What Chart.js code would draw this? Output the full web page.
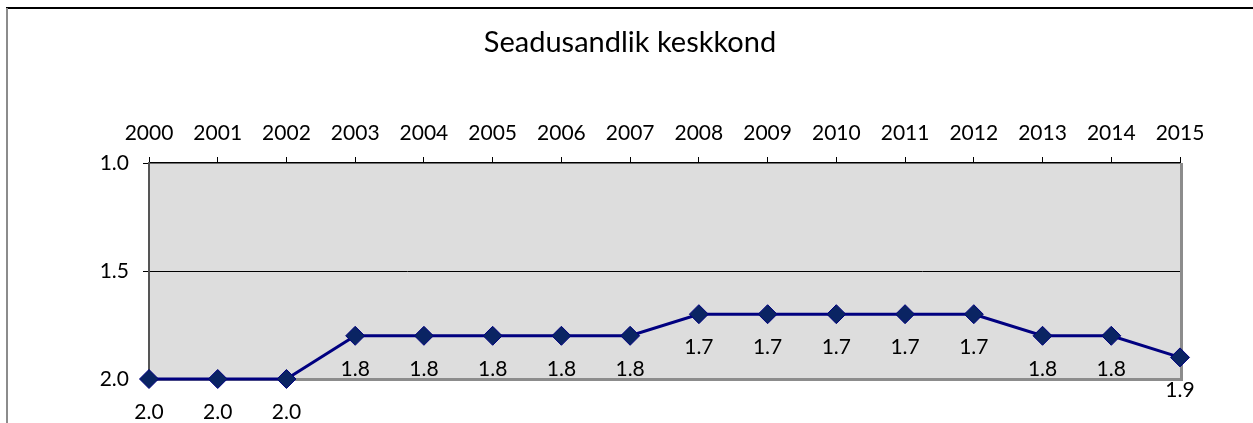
<!DOCTYPE html>
<html>
<head>
<meta charset="utf-8">
<script src="https://cdn.jsdelivr.net/npm/chart.js@4"></script>
<style>
  html, body { margin: 0; padding: 0; background: #fff; }
  #wrap { width: 1253px; height: 423px; position: relative; }
</style>
</head>
<body>
<div id="wrap"><canvas id="chart" width="1253" height="423"></canvas></div>
<script>
const chartTitle = 'Seadusandlik keskkond';
const years = ['2000', '2001', '2002', '2003', '2004', '2005', '2006', '2007',
               '2008', '2009', '2010', '2011', '2012', '2013', '2014', '2015'];
const scores = [2.0, 2.0, 2.0, 1.8, 1.8, 1.8, 1.8, 1.8, 1.7, 1.7, 1.7, 1.7, 1.7, 1.8, 1.8, 1.9];
const yTicks = [1.0, 1.5, 2.0];

const fontFamily = 'Lato, "Open Sans", sans-serif';

// taust, raam ja pealkiri
const framePlugin = {
    id: 'frame',
    beforeDraw(chart) {
        const { ctx, chartArea: a } = chart;
        ctx.save();
        ctx.fillStyle = '#dddddd';
        ctx.fillRect(a.left, a.top, a.right - a.left, a.bottom - a.top);

        // välimine raam
        ctx.strokeStyle = '#000';
        ctx.lineWidth = 2;
        ctx.beginPath();
        ctx.moveTo(6, 8);
        ctx.lineTo(1253, 8);
        ctx.stroke();
        ctx.strokeStyle = '#8c8c8c';
        ctx.beginPath();
        ctx.moveTo(7, 8);
        ctx.lineTo(7, 423);
        ctx.stroke();

        ctx.fillStyle = '#000';
        ctx.font = '29px ' + fontFamily;
        ctx.textAlign = 'center';
        ctx.textBaseline = 'middle';
        ctx.fillText(chartTitle, 630, 43);
        ctx.restore();
    },
    beforeDatasetsDraw(chart) {
        const { ctx, chartArea: a } = chart;
        ctx.save();
        ctx.strokeStyle = '#8c8c8c';
        ctx.lineWidth = 3;
        ctx.beginPath();
        ctx.moveTo(a.left, a.bottom + 0.5);
        ctx.lineTo(a.right + 1.5, a.bottom + 0.5);
        ctx.lineTo(a.right + 1.5, a.top);
        ctx.stroke();
        ctx.restore();
    }
};

// väärtuste sildid punktide all
const labelPlugin = {
    id: 'pointLabels',
    afterDatasetsDraw(chart) {
        const { ctx } = chart;
        const meta = chart.getDatasetMeta(0);
        ctx.save();
        ctx.fillStyle = '#000';
        ctx.font = '21px ' + fontFamily;
        ctx.textAlign = 'center';
        ctx.textBaseline = 'middle';
        meta.data.forEach((pt, i) => {
            ctx.fillText(scores[i].toFixed(1), pt.x, pt.y + 33);
        });
        ctx.restore();
    }
};

new Chart(document.getElementById('chart'), {
    type: 'line',
    data: {
        labels: years,
        datasets: [{
            data: scores,
            borderColor: '#000080',
            borderWidth: 3,
            pointStyle: 'rectRot',
            pointRadius: 9.5,
            pointHoverRadius: 9.5,
            pointBackgroundColor: '#0a2463',
            pointBorderColor: '#000080',
            pointBorderWidth: 1,
            tension: 0,
            clip: false,
        }],
    },
    options: {
        responsive: false,
        animation: false,
        layout: { padding: { left: 0, right: 73, top: 0, bottom: 44 } },
        plugins: {
            legend: { display: false },
            title: { display: false },
            tooltip: { enabled: false },
        },
        scales: {
            x: {
                position: 'top',
                offset: false,
                afterFit: scale => { scale.height = 163; },
                grid: {
                    drawOnChartArea: false,
                    drawTicks: true,
                    tickLength: 6,
                    tickColor: '#000',
                },
                border: { display: true, color: '#000', width: 1.5 },
                ticks: {
                    color: '#000',
                    padding: 11,
                    maxRotation: 0,
                    autoSkip: false,
                    font: { family: fontFamily, size: 21 },
                },
            },
            y: {
                reverse: true,
                min: yTicks[0],
                max: yTicks[yTicks.length - 1],
                afterFit: scale => { scale.width = 149; },
                afterBuildTicks: scale => { scale.ticks = yTicks.map(v => ({ value: v })); },
                grid: {
                    color: c => (c.tick && c.tick.value === 1.5) ? '#000' : 'rgba(0,0,0,0)',
                    lineWidth: 1,
                    drawTicks: true,
                    tickLength: 6,
                    tickColor: '#000',
                },
                border: { display: true, color: '#555', width: 2 },
                ticks: {
                    color: '#000',
                    padding: 14,
                    font: { family: fontFamily, size: 21 },
                    callback: v => Number(v).toFixed(1),
                },
            },
        },
    },
    plugins: [framePlugin, labelPlugin],
});
</script>
</body>
</html>
